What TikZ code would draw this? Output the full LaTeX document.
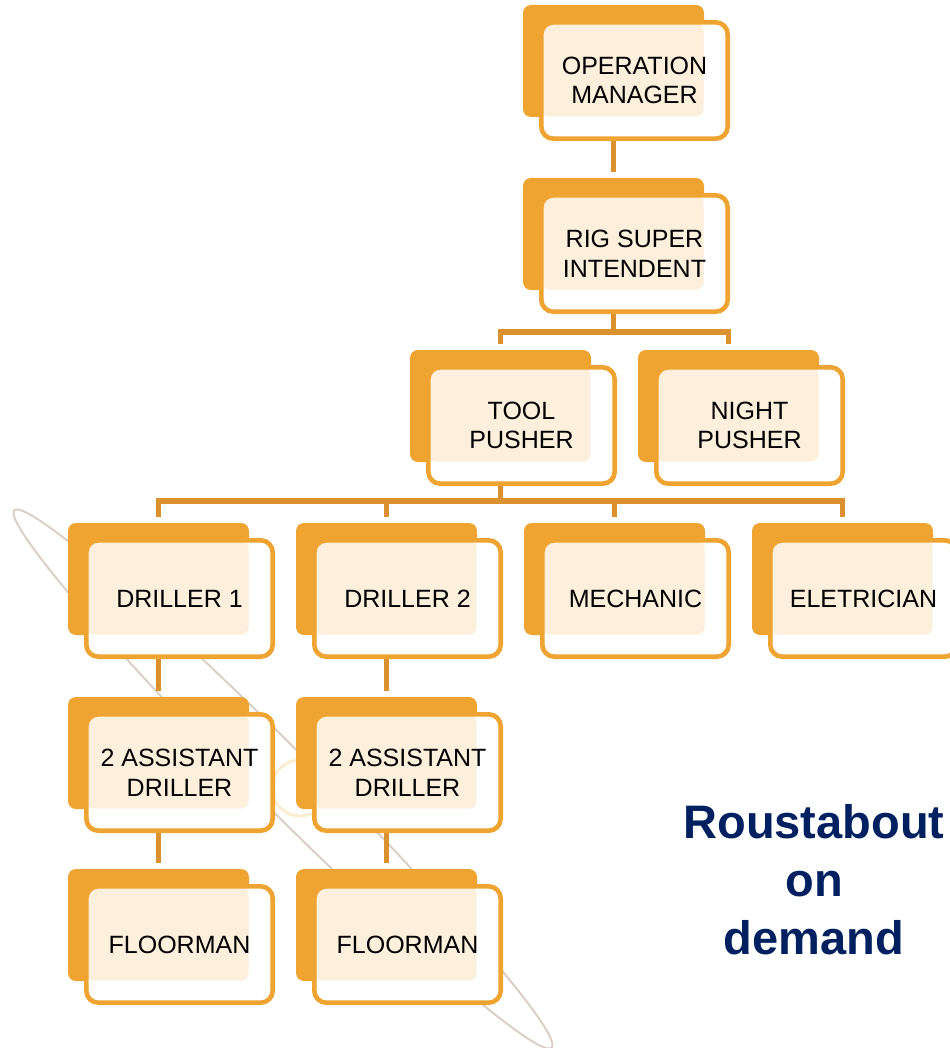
\documentclass[tikz,border=0pt]{standalone}
\usepackage{fontspec}
\setmainfont{Liberation Sans}
\usetikzlibrary{backgrounds}
\definecolor{boxorange}{RGB}{239,164,49}
\definecolor{linkorange}{RGB}{219,146,46}
\definecolor{patorange}{RGB}{252,239,219}
\definecolor{navytext}{RGB}{0,32,96}
\definecolor{swoosh}{RGB}{218,208,198}
\definecolor{creamring}{RGB}{252,238,210}
\tikzset{
  backbox/.style={rectangle, rounded corners=4pt, fill=boxorange, minimum width=90.5pt,
    minimum height=56pt, inner sep=0pt, outer sep=0pt},
  frontbox/.style={rectangle, rounded corners=6pt, draw=boxorange, line width=2.3pt, fill=white,
    minimum width=93.2pt, minimum height=58.2pt, inner sep=1pt, align=center,
    font=\fontsize{12.5}{14.8}\selectfont,
    path picture={\fill[patorange, rounded corners=4pt] (path picture bounding box.north west)
      rectangle ([xshift=-12pt,yshift=11pt]path picture bounding box.south east);}},
  link/.style={draw=linkorange, line width=2.8pt, shorten >=3pt}
}
\begin{document}
\begin{tikzpicture}[x=0.5pt, y=-0.5pt]
    \useasboundingbox (0,0) rectangle (949,1048);
    % back plates
    \node[backbox] (om-b) at (613.5,61){};
    \node[backbox] (rsi-b) at (613.5,234){};
    \node[backbox] (tp-b) at (500.5,406){};
    \node[backbox] (np-b) at (728.5,406){};
    \node[backbox] (dr1-b) at (158.5,579){};
    \node[backbox] (dr2-b) at (386.5,579){};
    \node[backbox] (mech-b) at (614.5,579){};
    \node[backbox] (elec-b) at (842.5,579){};
    \node[backbox] (ad1-b) at (158.5,753){};
    \node[backbox] (ad2-b) at (386.5,753){};
    \node[backbox] (fm1-b) at (158.5,925){};
    \node[backbox] (fm2-b) at (386.5,925){};
    % front boxes
    \node[frontbox] (om) at (634.5,80.5){OPERATION\\MANAGER};
    \node[frontbox] (rsi) at (634.5,253.5){RIG SUPER\\INTENDENT};
    \node[frontbox] (tp) at (521.5,425.5){TOOL\\PUSHER};
    \node[frontbox] (np) at (749.5,425.5){NIGHT\\PUSHER};
    \node[frontbox] (dr1) at (179.5,598.5){DRILLER 1};
    \node[frontbox] (dr2) at (407.5,598.5){DRILLER 2};
    \node[frontbox] (mech) at (635.5,598.5){MECHANIC};
    \node[frontbox] (elec) at (863.5,598.5){ELETRICIAN};
    \node[frontbox] (ad1) at (179.5,772.5){2 ASSISTANT\\DRILLER};
    \node[frontbox] (ad2) at (407.5,772.5){2 ASSISTANT\\DRILLER};
    \node[frontbox] (fm1) at (179.5,944.5){FLOORMAN};
    \node[frontbox] (fm2) at (407.5,944.5){FLOORMAN};
    % links
    \draw[link](om.south -| om-b) -- (rsi-b.north);
    \draw[link](rsi.south -| rsi-b) -- ++(0,18) -| (tp-b.north);
    \draw[link](rsi.south -| rsi-b) -- ++(0,18) -| (np-b.north);
    \draw[link](tp.south -| tp-b) -- ++(0,15) -| (dr1-b.north);
    \draw[link](tp.south -| tp-b) -- ++(0,15) -| (dr2-b.north);
    \draw[link](tp.south -| tp-b) -- ++(0,15) -| (mech-b.north);
    \draw[link](tp.south -| tp-b) -- ++(0,15) -| (elec-b.north);
    \draw[link](dr1.south -| dr1-b) -- (ad1-b.north);
    \draw[link](ad1.south -| ad1-b) -- (fm1-b.north);
    \draw[link](dr2.south -| dr2-b) -- (ad2-b.north);
    \draw[link](ad2.south -| ad2-b) -- (fm2-b.north);
    \node[text=navytext, align=center, font=\fontsize{23.5}{29}\selectfont\bfseries] (rab) at (814,880){Roustabout\\on\\demand};
    \begin{scope}[on background layer]
      \draw[creamring, line width=1.6pt] (300,788) circle [radius=14pt];
      \draw[swoosh, line width=1pt, rotate around={-45:(283,779)}] (283,779) ellipse [x radius=190pt, y radius=15pt];
    \end{scope}
\end{tikzpicture}
\end{document}
